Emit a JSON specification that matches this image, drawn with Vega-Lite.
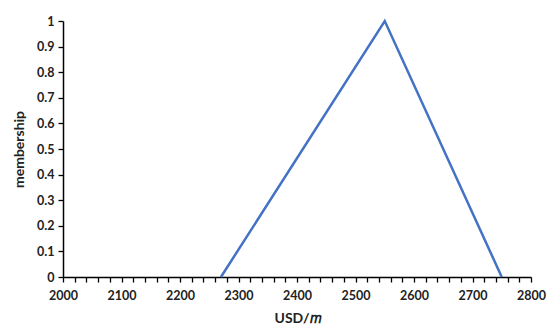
{
  "$schema": "https://vega.github.io/schema/vega-lite/v6.json",
  "width": 468,
  "height": 256,
  "autosize": {"type": "none"},
  "padding": {"left": 63, "top": 21, "right": 19, "bottom": 56},
  "background": "white",
  "config": {
    "view": {"stroke": null},
    "axis": {"labelFont": "Lato", "titleFont": "Lato", "labelFontWeight": "bold", "titleFontWeight": "bold", "labelColor": "#222", "titleColor": "#222", "domainColor": "#000", "tickColor": "#000", "grid": false, "labelFlush": false}
  },
  "data": {"values": [
    {"usd": 2270, "membership": 0},
    {"usd": 2550, "membership": 1},
    {"usd": 2750, "membership": 0}
  ]},
  "mark": {"type": "line", "color": "#4472C4", "strokeWidth": 2.5},
  "encoding": {
    "x": {"field": "usd", "type": "quantitative", "scale": {"domain": [2000, 2800], "nice": false, "zero": false},
      "axis": {"title": "USD/𝑚", "titleFontSize": 14, "titlePadding": 10, "labelFontSize": 12.5, "labelPadding": 7, "tickSize": 5, "domainWidth": 1.5, "tickWidth": 1.3,
        "values": [2000,2020,2040,2060,2080,2100,2120,2140,2160,2180,2200,2220,2240,2260,2280,2300,2320,2340,2360,2380,2400,2420,2440,2460,2480,2500,2520,2540,2560,2580,2600,2620,2640,2660,2680,2700,2720,2740,2760,2780,2800],
        "labelExpr": "datum.value % 100 === 0 ? datum.label : ''", "format": "d", "labelOverlap": false, "labelBound": false}},
    "y": {"field": "membership", "type": "quantitative", "scale": {"domain": [0, 1], "nice": false},
      "axis": {"title": "membership", "titleFontSize": 14, "titlePadding": 10, "labelFontSize": 12.5, "labelPadding": 4, "tickSize": 5, "domainWidth": 1.5, "tickWidth": 1.3, "format": "~g",
        "values": [0,0.1,0.2,0.3,0.4,0.5,0.6,0.7,0.8,0.9,1], "labelOverlap": false}}
  }
}
